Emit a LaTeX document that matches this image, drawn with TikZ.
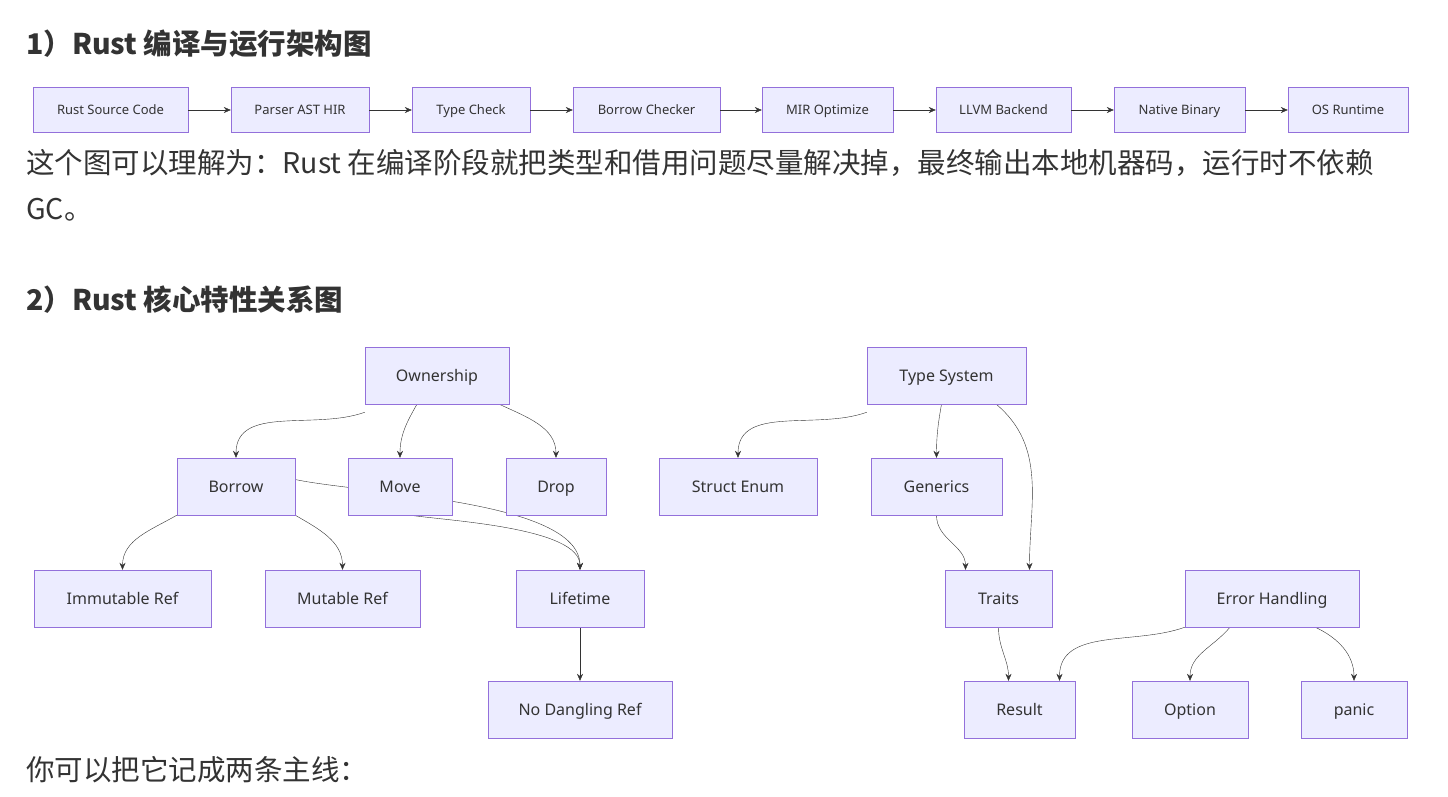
\documentclass[tikz,border=0pt]{standalone}
\usepackage{fontspec}
\setmainfont{Noto Sans CJK SC}
\newfontfamily\boxfont{Noto Sans}
\usetikzlibrary{arrows.meta,backgrounds}
\definecolor{boxfill}{HTML}{ECECFF}
\definecolor{boxline}{HTML}{9370DB}
\definecolor{ink}{HTML}{333333}
\tikzset{
  stage/.style={draw=boxline, fill=boxfill, inner sep=0pt, minimum height=45pt,
    text height=11pt, text depth=2pt,
    font=\boxfont\fontsize{13}{15}\selectfont, text=ink},
  item/.style={draw=boxline, fill=boxfill, inner sep=0pt, minimum height=57pt,
    text height=14pt, text depth=2.5pt,
    font=\boxfont\fontsize{16}{18}\selectfont, text=ink},
  link/.style={draw=ink, -{Stealth[length=7pt,width=6pt]}},
  title/.style={anchor=west, inner sep=0pt, font=\bfseries\fontsize{28.5}{32}\selectfont, text=ink},
  prose/.style={anchor=west, inner sep=0pt, font=\fontsize{28.5}{32}\selectfont, text=ink}
}
\begin{document}
\begin{tikzpicture}[x=1pt, y=-1pt]
    \useasboundingbox (0,0) rectangle (1448,796);

    % Heading 1 and pipeline
    \node [title] (h1) at (26,44) {1）Rust 编译与运行架构图};
    \node [stage, minimum width=155pt] (src) at (110.5,110) {Rust Source Code};
    \node [stage, minimum width=138pt] (parse) at (300,110) {Parser AST HIR};
    \node [stage, minimum width=118pt] (tcheck) at (471,110) {Type Check};
    \node [stage, minimum width=147pt] (bcheck) at (646.5,110) {Borrow Checker};
    \node [stage, minimum width=131pt] (mir) at (827.5,110) {MIR Optimize};
    \node [stage, minimum width=135pt] (llvm) at (1003.5,110) {LLVM Backend};
    \node [stage, minimum width=131pt] (native) at (1179.5,110) {Native Binary};
    \node [stage, minimum width=120pt] (os) at (1348,110) {OS Runtime};
    \foreach \a/\b in {src/parse, parse/tcheck, tcheck/bcheck, bcheck/mir, mir/llvm, llvm/native, native/os}
        \draw [link] (\a) -- (\b);

    \node [prose] (p1) at (26,163) {这个图可以理解为：Rust 在编译阶段就把类型和借用问题尽量解决掉，最终输出本地机器码，运行时不依赖};
    \node [prose] (p2) at (26,210) {GC。};

    % Heading 2 and feature graph
    \node [title] (h2) at (26,300) {2）Rust 核心特性关系图};

    \node [item, minimum width=144pt] (own) at (437,375.5) {Ownership};
    \node [item, minimum width=159pt] (tsys) at (946.5,375.5) {Type System};
    \node [item, minimum width=118pt] (borrow) at (236,486.5) {Borrow};
    \node [item, minimum width=104pt] (move) at (400,486.5) {Move};
    \node [item, minimum width=100pt] (drop) at (556,486.5) {Drop};
    \node [item, minimum width=158pt] (senum) at (738,486.5) {Struct Enum};
    \node [item, minimum width=131pt] (gen) at (936.5,486.5) {Generics};
    \node [item, minimum width=177pt] (immut) at (122.5,598.5) {Immutable Ref};
    \node [item, minimum width=155pt] (mutref) at (342.5,598.5) {Mutable Ref};
    \node [item, minimum width=128pt] (life) at (580,598.5) {Lifetime};
    \node [item, minimum width=107pt] (traits) at (998.5,598.5) {Traits};
    \node [item, minimum width=174pt] (err) at (1272,598.5) {Error Handling};
    \node [item, minimum width=184pt] (nodang) at (580,709.5) {No Dangling Ref};
    \node [item, minimum width=111pt] (result) at (1019.5,709.5) {Result};
    \node [item, minimum width=116pt] (option) at (1190,709.5) {Option};
    \node [item, minimum width=106pt] (panic) at (1354,709.5) {panic};

    \begin{scope}[on background layer]
    \draw [link] ([yshift=-8pt]own.south west) to[out=200, in=90] (borrow.north);
    \draw [link] ([xshift=-20pt]own.south) to[out=240, in=90] (move.north);
    \draw [link] ([xshift=-10pt]own.south east) to[out=-25, in=90] (drop.north);
    \draw [link] (borrow.south west) to[out=-150, in=90] (immut.north);
    \draw [link] (borrow.south east) to[out=-30, in=90] (mutref.north);
    \draw [link] ([yshift=7pt]borrow.east) to[out=-12, in=90, looseness=0.6] (life.north);
    \draw [link] ([xshift=10pt]move.south) to[out=-8, in=90, looseness=0.6] (life.north);
    \draw [link] (life) -- (nodang);
    \draw [link] ([yshift=-8pt]tsys.south west) to[out=200, in=90] (senum.north);
    \draw [link] ([xshift=-5pt]tsys.south) to[out=260, in=90] (gen.north);
    \draw [link] ([xshift=-30pt]tsys.south east) to[out=-40, in=90] ([xshift=31pt]traits.north);
    \draw [link] (gen.south) to[out=-90, in=90] ([xshift=-33pt]traits.north);
    \draw [link] (traits.south) to[out=-90, in=90] ([xshift=-11pt]result.north);
    \draw [link] (err.south west) to[out=200, in=90] ([xshift=40pt]result.north);
    \draw [link] ([xshift=-42pt]err.south) to[out=230, in=90] (option.north);
    \draw [link] ([xshift=-44pt]err.south east) to[out=-25, in=90] (panic.north);
    \end{scope}

    \node [prose] (p3) at (26,770) {你可以把它记成两条主线：};
\end{tikzpicture}
\end{document}
